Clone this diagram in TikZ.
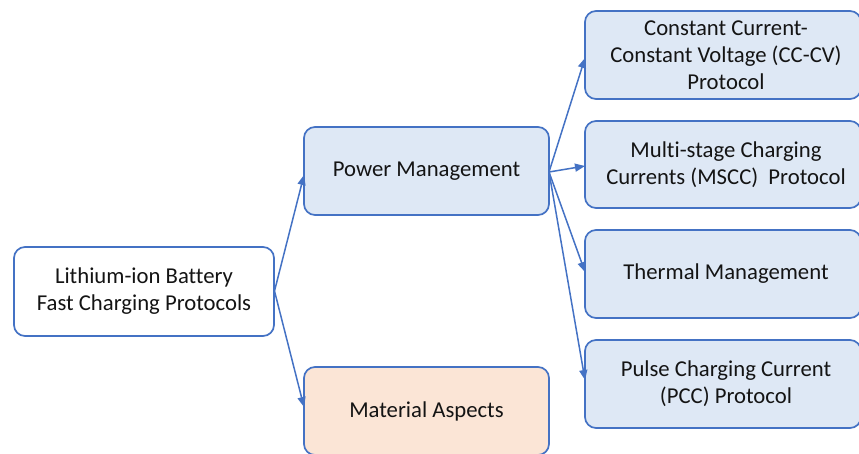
\documentclass[tikz,border=0pt]{standalone}
\usepackage{fontspec}
\setmainfont{Carlito}[Ligatures={NoCommon}]
\usetikzlibrary{arrows.meta}
\definecolor{bordblue}{HTML}{4472C4}
\definecolor{lblue}{HTML}{DEE8F5}
\definecolor{peach}{HTML}{FBE5D6}
\definecolor{txt}{HTML}{141414}
\begin{document}
\begin{tikzpicture}[x=1pt,y=-1pt,
  box/.style={draw=bordblue, line width=1.7pt, rounded corners=11pt, align=center,
    inner sep=0pt, font=\fontsize{22.7}{27}\selectfont, text=txt},
  bluebox/.style={box, fill=lblue},
  conn/.style={draw=bordblue, line width=1.5pt, -{Triangle[length=10pt,width=8pt]}}]
\useasboundingbox (0,0) rectangle (859,453);
\begin{scope}
\clip (0,0) rectangle (859,453);
\node[box, fill=white, minimum width=260pt, minimum height=89pt] (root) at (144,291.5)
  {Lithium-ion Battery\\Fast Charging Protocols};
\node[bluebox, minimum width=245pt, minimum height=88pt] (pm) at (426.5,171) {Power Management};
\node[box, fill=peach, minimum width=245pt, minimum height=88pt] (ma) at (426.5,411) {Material Aspects};
\node[bluebox, minimum width=276pt, minimum height=88pt] (cc) at (723,55) {\hspace*{6pt}Constant Current-\\\hspace*{6pt}Constant Voltage (CC-CV)\\\hspace*{6pt}Protocol};
\node[bluebox, minimum width=276pt, minimum height=87pt] (ms) at (723,164.5) {\hspace*{6pt}Multi-stage Charging\\\hspace*{6pt}Currents (MSCC)\ \ Protocol};
\node[bluebox, minimum width=276pt, minimum height=88pt] (th) at (723,274) {\hspace*{6pt}Thermal Management};
\node[bluebox, minimum width=276pt, minimum height=88pt] (pc) at (723,384) {\hspace*{6pt}Pulse Charging Current\\\hspace*{6pt}(PCC) Protocol};
\coordinate (rs) at (274.5,291);
\coordinate (ps) at (549,172);
\coordinate (pmin) at (304,175);
\coordinate (main) at (304,407);
\coordinate (ccin) at (585,58);
\coordinate (msin) at (585,166);
\coordinate (thin) at (585,272);
\coordinate (pcin) at (585,380);
\draw[conn] (rs) -- (pmin);
\draw[conn] (rs) -- (main);
\draw[conn] (ps) -- (ccin);
\draw[conn] (ps) -- (msin);
\draw[conn] (ps) -- (thin);
\draw[conn] (ps) -- (pcin);
\end{scope}
\end{tikzpicture}
\end{document}
